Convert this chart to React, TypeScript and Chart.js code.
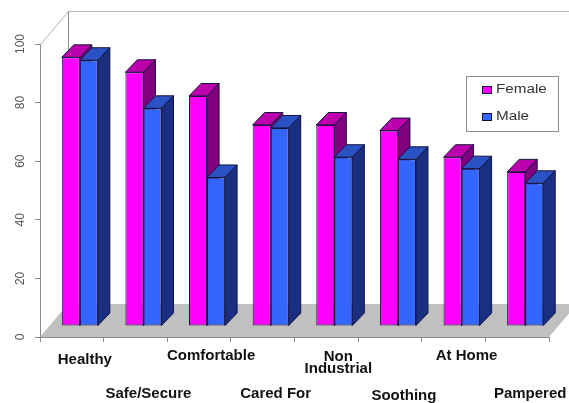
import React, { useEffect, useRef } from "react";
import { Chart, registerables } from "chart.js";

Chart.register(...registerables);

const categories: (string | string[])[] = [
  "Healthy",
  "Safe/Secure",
  "Comfortable",
  "Cared For",
  ["Non", "Industrial"],
  "Soothing",
  "At Home",
  "Pampered",
];
const female = [91.7, 86.6, 78.5, 68.6, 68.6, 66.7, 57.6, 52.6];
const male = [90.7, 74.3, 50.7, 67.6, 57.6, 56.9, 53.7, 48.7];
const yTickStep = 20;

// Per-label shift of the category text: the labels sit on two staggered rows.
const labelShift: [number, number][] = [
  [0, 0],
  [0, 34],
  [-1, -4],
  [0, 34],
  [-1, -3],
  [1, 36],
  [0, -4],
  [0, 34],
];

// Oblique projection of the box: how far the back plane sits from the front plane.
const WALL_DX = 28;
const WALL_DY = -33;
// Where the bars stand on the floor, and how deep each bar is.
const BAR_SHIFT_X = 8;
const BAR_SHIFT_Y = -11;
const BAR_DX = 12;
const BAR_DY = -12.5;

const EDGE = "#14143c";
const faces = [
  { top: "#BC00AE", side: "#800080" },
  { top: "#2A52C4", side: "#1B2F82" },
];

function poly(ctx: CanvasRenderingContext2D, pts: number[][], fill: string | null, stroke: string | null) {
  ctx.beginPath();
  pts.forEach(([x, y], i) => (i ? ctx.lineTo(x, y) : ctx.moveTo(x, y)));
  ctx.closePath();
  if (fill) {
    ctx.fillStyle = fill;
    ctx.fill();
  }
  if (stroke) {
    ctx.strokeStyle = stroke;
    ctx.lineWidth = 1;
    ctx.stroke();
  }
}

const roomPlugin = {
  id: "room",
  beforeDraw(chart: any) {
    const { ctx, chartArea: a, width } = chart;
    ctx.save();
    ctx.fillStyle = "#fff";
    ctx.fillRect(0, 0, width, chart.height);
    // floor
    poly(
      ctx,
      [
        [a.left, a.bottom],
        [a.right, a.bottom],
        [a.right + WALL_DX, a.bottom + WALL_DY],
        [a.left + WALL_DX, a.bottom + WALL_DY],
      ],
      "#C0C0C0",
      null,
    );
    // back wall and its corner edges
    ctx.strokeStyle = "#B4B4B4";
    ctx.lineWidth = 1;
    ctx.beginPath();
    ctx.moveTo(a.left + 0.5, a.top + 0.5);
    ctx.lineTo(a.left + WALL_DX + 0.5, a.top + WALL_DY + 0.5);
    ctx.lineTo(a.right + WALL_DX, a.top + WALL_DY + 0.5);
    ctx.stroke();
    ctx.strokeStyle = "#8C8C8C";
    ctx.beginPath();
    ctx.moveTo(a.left + WALL_DX + 0.5, a.top + WALL_DY + 0.5);
    ctx.lineTo(a.left + WALL_DX + 0.5, a.bottom + WALL_DY);
    ctx.stroke();
    ctx.restore();
  },
};

const boxPlugin = {
  id: "boxes",
  beforeDatasetsDraw(chart: any) {
    const { ctx } = chart;
    ctx.save();
    ctx.translate(BAR_SHIFT_X, BAR_SHIFT_Y);
    // top and side faces, drawn before the library paints the front faces
    chart.data.datasets.forEach((_: any, d: number) => {
      chart.getDatasetMeta(d).data.forEach((bar: any) => {
        const l = bar.x - bar.width / 2;
        const r = bar.x + bar.width / 2;
        const t = bar.y;
        const b = bar.base;
        poly(
          ctx,
          [
            [l, t],
            [r, t],
            [r + BAR_DX, t + BAR_DY],
            [l + BAR_DX, t + BAR_DY],
          ],
          faces[d].top,
          EDGE,
        );
        poly(
          ctx,
          [
            [r, t],
            [r + BAR_DX, t + BAR_DY],
            [r + BAR_DX, b + BAR_DY],
            [r, b],
          ],
          faces[d].side,
          EDGE,
        );
      });
    });
  },
  afterDatasetsDraw(chart: any) {
    chart.ctx.restore();
  },
};

const labelPlugin = {
  id: "staggeredLabels",
  afterUpdate(chart: any) {
    chart.scales.x.getLabelItems().forEach((item: any, i: number) => {
      item.options.translation = [
        item.options.translation[0] + labelShift[i][0],
        item.options.translation[1] + labelShift[i][1],
      ];
    });
  },
};

// Boxed key in the upper right corner of the plot.
const keyPlugin = {
  id: "key",
  afterDraw(chart: any) {
    const { ctx } = chart;
    ctx.save();
    ctx.fillStyle = "#fff";
    ctx.strokeStyle = "#8C8C8C";
    ctx.lineWidth = 1;
    ctx.fillRect(467, 76, 91, 55);
    ctx.strokeRect(466.5, 76.5, 92, 55);
    chart.data.datasets.forEach((ds: any, i: number) => {
      const y = 86.5 + i * 27;
      ctx.fillStyle = ds.backgroundColor;
      ctx.strokeStyle = "#101030";
      ctx.fillRect(482.5, y, 9, 7);
      ctx.strokeRect(482.5, y, 9, 7);
      ctx.fillStyle = "#333";
      ctx.font = "12px 'Liberation Sans', Arial, sans-serif";
      ctx.textBaseline = "middle";
      ctx.save();
      ctx.translate(496, y + 3);
      ctx.scale(1.27, 1);
      ctx.fillText(ds.label, 0, 0);
      ctx.restore();
    });
    ctx.restore();
  },
};

export default function App() {
  const ref = useRef<HTMLCanvasElement>(null);

  useEffect(() => {
    if (!ref.current) return;
    const chart = new Chart(ref.current, {
      type: "bar",
      data: {
        labels: categories as any,
        datasets: [
          {
            label: "Female",
            data: female,
            backgroundColor: "#FF00FF",
            borderColor: EDGE,
            borderWidth: 1,
            borderSkipped: false,
          },
          {
            label: "Male",
            data: male,
            backgroundColor: "#3366FF",
            borderColor: EDGE,
            borderWidth: 1,
            borderSkipped: false,
          },
        ],
      },
      options: {
        responsive: false,
        animation: false,
        layout: { autoPadding: false, padding: { left: 0, right: 20, top: 44, bottom: 0 } },
        plugins: { legend: { display: false }, tooltip: { enabled: false } },
        datasets: { bar: { categoryPercentage: 0.567, barPercentage: 1, clip: false as any } },
        scales: {
          x: {
            afterFit: (s: any) => {
              s.height = 66;
            },
            border: { color: "#8C8C8C" },
            grid: { drawOnChartArea: false, tickLength: 5, tickColor: "#8C8C8C" },
            ticks: {
              autoSkip: false,
              maxRotation: 0,
              minRotation: 0,
              labelOffset: 13,
              padding: 12,
              color: "#111",
              font: { family: "'Liberation Sans', Arial, sans-serif", size: 15, weight: "bold", lineHeight: "12px" },
            },
          },
          y: {
            min: 0,
            max: 100,
            afterFit: (s: any) => {
              s.width = 40;
            },
            border: { color: "#8C8C8C" },
            grid: { drawOnChartArea: false, tickLength: 5, tickColor: "#8C8C8C" },
            ticks: {
              stepSize: yTickStep,
              minRotation: 90,
              maxRotation: 90,
              crossAlign: "center",
              padding: 4,
              color: "#555",
              font: { family: "'Liberation Sans', Arial, sans-serif", size: 12 },
            },
          },
        },
      },
      plugins: [roomPlugin, boxPlugin, labelPlugin, keyPlugin],
    } as any);
    return () => chart.destroy();
  }, []);

  return (
    <div style={{ position: "absolute", left: 0, top: 0, width: 569, height: 403, overflow: "hidden" }}>
      <canvas ref={ref} width={569} height={403} style={{ display: "block" }} />
    </div>
  );
}
